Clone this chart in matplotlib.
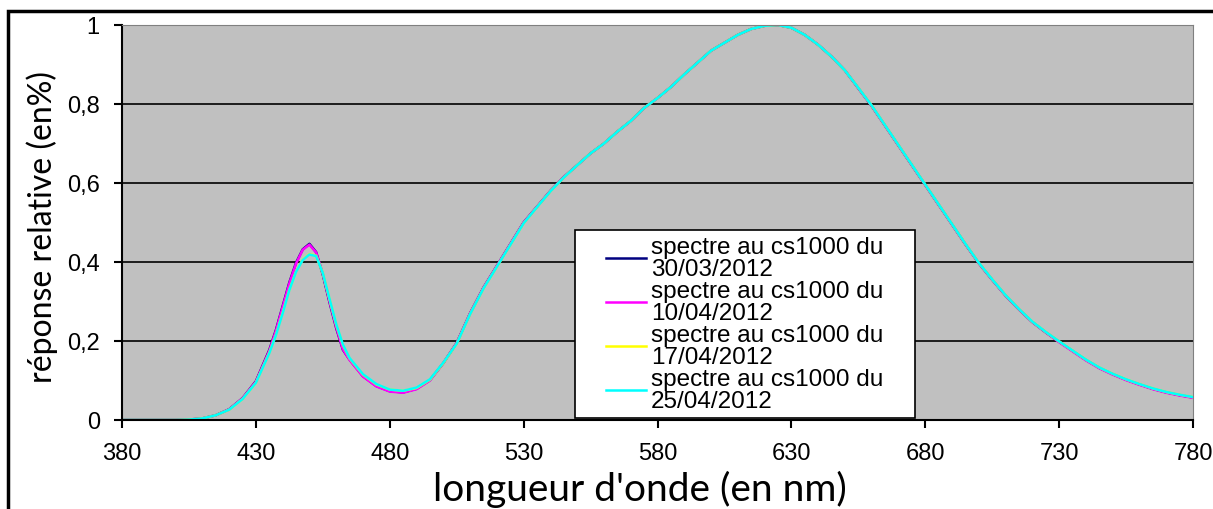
import matplotlib
matplotlib.use('Agg')
import matplotlib.pyplot as plt
from matplotlib.patches import Rectangle
from matplotlib.lines import Line2D
from matplotlib.legend_handler import HandlerLine2D

# wavelengths (nm) at which the spectra were read
longueur_onde = [380, 385, 390, 395, 400, 405, 410, 415, 420, 425, 430, 435, 437.5, 440, 442.5,
                 445, 447.5, 450, 452.5, 455, 457.5, 460, 462.5, 465, 470, 475, 480, 485, 490,
                 495, 500, 505, 510, 515, 520, 525, 530, 535, 540, 545, 550, 555, 560, 565, 570,
                 575, 580, 585, 590, 595, 600, 605, 610, 615, 620, 625, 630, 635, 640, 645, 650,
                 655, 660, 665, 670, 675, 680, 685, 690, 695, 700, 705, 710, 715, 720, 725, 730,
                 735, 740, 745, 750, 755, 760, 765, 770, 775, 780]

# relative response of each measurement
spectre_3003 = [0, 0, 0, 0, 0, 0.001, 0.004, 0.012, 0.027, 0.055, 0.098, 0.177, 0.228, 0.288, 0.348,
                0.398, 0.432, 0.446, 0.425, 0.368, 0.298, 0.233, 0.178, 0.153, 0.111, 0.086, 0.073, 0.070, 0.079,
                0.101, 0.144, 0.195, 0.270, 0.335, 0.390, 0.445, 0.500, 0.540, 0.580, 0.615, 0.645, 0.675, 0.700, 0.730, 0.757,
                0.790, 0.815, 0.843, 0.875, 0.905, 0.935, 0.955, 0.975, 0.990, 0.998, 1.000, 0.993, 0.975, 0.950, 0.920, 0.885,
                0.840, 0.795, 0.745, 0.695, 0.645, 0.595, 0.545, 0.495, 0.445, 0.397, 0.355, 0.315, 0.280, 0.248, 0.222, 0.198,
                0.175, 0.152, 0.132, 0.116, 0.102, 0.090, 0.079, 0.070, 0.063, 0.057]
spectre_1004 = [0, 0, 0, 0, 0, 0.001, 0.004, 0.012, 0.027, 0.055, 0.097, 0.175, 0.226, 0.286, 0.346,
                0.396, 0.431, 0.444, 0.424, 0.370, 0.300, 0.235, 0.179, 0.152, 0.110, 0.085, 0.072, 0.069, 0.078,
                0.100, 0.144, 0.195, 0.270, 0.335, 0.390, 0.445, 0.500, 0.540, 0.580, 0.615, 0.645, 0.675, 0.700, 0.730, 0.757,
                0.790, 0.815, 0.843, 0.875, 0.905, 0.935, 0.955, 0.975, 0.990, 0.998, 1.000, 0.993, 0.975, 0.950, 0.920, 0.885,
                0.840, 0.795, 0.745, 0.695, 0.645, 0.595, 0.545, 0.495, 0.445, 0.397, 0.355, 0.315, 0.280, 0.248, 0.222, 0.197,
                0.174, 0.151, 0.131, 0.115, 0.101, 0.089, 0.078, 0.069, 0.062, 0.056]
spectre_1704 = [0, 0, 0, 0, 0, 0.001, 0.004, 0.012, 0.026, 0.053, 0.094, 0.170, 0.216, 0.272, 0.330,
                0.376, 0.406, 0.420, 0.416, 0.372, 0.306, 0.242, 0.190, 0.156, 0.115, 0.090, 0.077, 0.074, 0.081,
                0.102, 0.144, 0.193, 0.268, 0.333, 0.388, 0.443, 0.498, 0.539, 0.579, 0.614, 0.645, 0.675, 0.700, 0.730, 0.757,
                0.790, 0.815, 0.843, 0.875, 0.905, 0.935, 0.955, 0.975, 0.990, 0.998, 1.000, 0.993, 0.975, 0.950, 0.920, 0.885,
                0.841, 0.796, 0.746, 0.696, 0.646, 0.596, 0.546, 0.496, 0.446, 0.398, 0.356, 0.316, 0.281, 0.249, 0.223, 0.199,
                0.176, 0.153, 0.133, 0.117, 0.103, 0.091, 0.080, 0.071, 0.064, 0.058]
spectre_2504 = [0, 0, 0, 0, 0, 0.001, 0.004, 0.012, 0.026, 0.053, 0.094, 0.169, 0.215, 0.270, 0.329,
                0.375, 0.405, 0.419, 0.415, 0.372, 0.307, 0.243, 0.191, 0.157, 0.116, 0.091, 0.077, 0.074, 0.082,
                0.103, 0.145, 0.193, 0.268, 0.333, 0.388, 0.443, 0.498, 0.539, 0.579, 0.614, 0.645, 0.675, 0.700, 0.730, 0.757,
                0.790, 0.815, 0.843, 0.875, 0.905, 0.935, 0.955, 0.975, 0.990, 0.998, 1.000, 0.993, 0.975, 0.950, 0.920, 0.885,
                0.841, 0.796, 0.746, 0.696, 0.646, 0.596, 0.546, 0.496, 0.446, 0.398, 0.356, 0.316, 0.281, 0.249, 0.223, 0.199,
                0.176, 0.153, 0.133, 0.117, 0.103, 0.091, 0.080, 0.071, 0.064, 0.058]

series_labels = ['spectre au cs1000 du\n30/03/2012', 'spectre au cs1000 du\n10/04/2012',
                 'spectre au cs1000 du\n17/04/2012', 'spectre au cs1000 du\n25/04/2012']
series_colors = ['#000080', '#FF00FF', '#FFFF00', '#00FFFF']

x_ticks = [380, 430, 480, 530, 580, 630, 680, 730, 780]
y_ticks = [0, 0.2, 0.4, 0.6, 0.8, 1]
y_tick_labels = ['0', '0,2', '0,4', '0,6', '0,8', '1']

# figure and plot area placed like the Excel chart
fig = plt.figure(figsize=(12.13, 5.10), dpi=100, facecolor='white')
ax = fig.add_axes([122 / 1213, 1 - 421 / 510, 1071 / 1213, 395 / 510])
ax.set_facecolor('#C0C0C0')

# outer chart border (only left and top edges visible)
fig.patches.append(Rectangle((8 / 1213, -0.1), 1.2, 1.1 - 12 / 510, transform=fig.transFigure,
                             fill=False, edgecolor='black', linewidth=2.5, clip_on=False))

# horizontal gridlines
for y in y_ticks[1:]:
    ax.axhline(y, color='black', linewidth=1.2, zorder=1)

# the four spectra
for values, label, color in zip([spectre_3003, spectre_1004, spectre_1704, spectre_2504], series_labels, series_colors):
    ax.plot(longueur_onde, values, color=color, linewidth=1.8, label=label, zorder=2)

ax.set_xlim(380, 780)
ax.set_ylim(0, 1)
ax.set_xticks(x_ticks)
ax.set_xticklabels([str(t) for t in x_ticks], fontfamily='Liberation Sans', fontsize=17)
ax.set_yticks(y_ticks)
ax.set_yticklabels(y_tick_labels, fontfamily='Liberation Sans', fontsize=17)
ax.tick_params(axis='x', direction='out', length=6, width=1.5, pad=10, color='black')
ax.tick_params(axis='y', direction='out', length=6, width=1.5, pad=10, color='black')

# spines: black axes, gray plot border
ax.spines['left'].set_color('black')
ax.spines['left'].set_linewidth(1.5)
ax.spines['bottom'].set_color('black')
ax.spines['bottom'].set_linewidth(1.5)
ax.spines['top'].set_color('#808080')
ax.spines['right'].set_color('#808080')

# axis titles
ax.set_xlabel("longueur d'onde (en nm)", fontfamily='Lato', fontsize=28)
ax.xaxis.set_label_coords(0.484, -0.125)
ax.set_ylabel('réponse relative (en%)', fontfamily='Lato', fontsize=23)
ax.yaxis.set_label_coords(-0.06, 0.49)

# legend box inside the plot, handles set in from the left edge
leg = ax.legend(loc='lower left', bbox_to_anchor=(0.423, 0.005, 0.3175, 0.486), mode='expand',
                frameon=True, fancybox=False, edgecolor='black', facecolor='white', framealpha=1,
                prop={'family': 'Liberation Sans', 'size': 17.5}, labelspacing=0.0,
                handlelength=2.68, handletextpad=0.2, borderpad=0.25, borderaxespad=0,
                handler_map={Line2D: HandlerLine2D(xpad=1.03)})
leg.get_frame().set_linewidth(1.2)
for t in leg.get_texts():
    t.set_linespacing(1.0)

plt.savefig('out.png', dpi=100, facecolor='white')
